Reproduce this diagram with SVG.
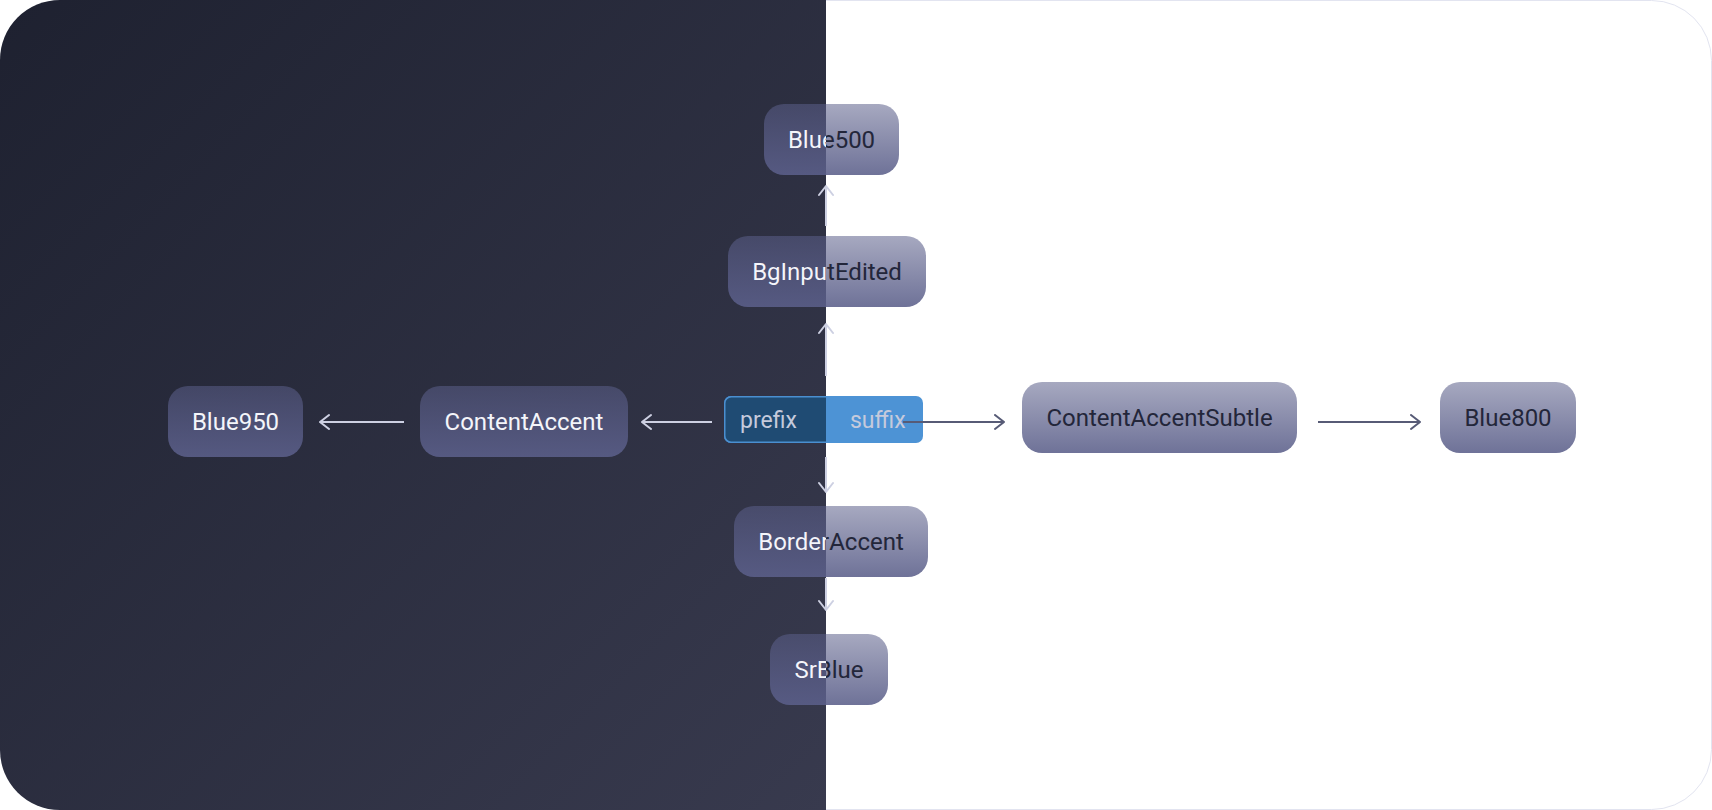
<svg xmlns="http://www.w3.org/2000/svg" width="1712" height="810" viewBox="0 0 1712 810">
  <defs>
    <clipPath id="cardClip">
      <rect x="0" y="0" width="1712" height="810" rx="60" ry="60"/>
    </clipPath>
    <clipPath id="leftClip">
      <rect x="0" y="0" width="826" height="810"/>
    </clipPath>
    <linearGradient id="darkBg" gradientUnits="userSpaceOnUse" x1="0" y1="0" x2="826" y2="810">
      <stop offset="0" stop-color="#1e2130"/>
      <stop offset="1" stop-color="#383a4e"/>
    </linearGradient>
    <linearGradient id="nodeFill" x1="0" y1="0" x2="0" y2="1">
      <stop offset="0" stop-color="#5b5f8a" stop-opacity="0.54"/>
      <stop offset="1" stop-color="#5b5f8a" stop-opacity="0.88"/>
    </linearGradient>
    <linearGradient id="splitText" gradientUnits="userSpaceOnUse" x1="0" y1="0" x2="1712" y2="0">
      <stop offset="0" stop-color="#f4f5fa"/>
      <stop offset="0.48248" stop-color="#f4f5fa"/>
      <stop offset="0.48248" stop-color="#23263a"/>
      <stop offset="1" stop-color="#23263a"/>
    </linearGradient>
    <marker id="arrowLight" markerUnits="userSpaceOnUse" markerWidth="14" markerHeight="18" refX="11" refY="8" orient="auto">
      <path d="M2,1 L11,8 L2,15" fill="none" stroke="#cdd0e2" stroke-width="2" stroke-linecap="round" stroke-linejoin="round"/>
    </marker>
    <marker id="arrowDark" markerUnits="userSpaceOnUse" markerWidth="14" markerHeight="18" refX="11" refY="8" orient="auto">
      <path d="M2,1 L11,8 L2,15" fill="none" stroke="#575b76" stroke-width="2" stroke-linecap="round" stroke-linejoin="round"/>
    </marker>
  </defs>
  <style>
    .node { fill: url(#nodeFill); }
    .label { font-family: Roboto, "Liberation Sans", sans-serif; font-size: 24px; text-anchor: middle; }
    .on-dark { fill: #f4f5fa; }
    .on-light { fill: #23263a; }
    .split { fill: url(#splitText); }
    .tag { font-family: Roboto, "Liberation Sans", sans-serif; font-size: 23px; fill: #c5cadc; }
    .conn-light { stroke: #cdd0e2; stroke-width: 2; fill: none; marker-end: url(#arrowLight); }
    .conn-dark { stroke: #575b76; stroke-width: 2; fill: none; marker-end: url(#arrowDark); }
  </style>

  <g id="background">
    <rect x="0" y="0" width="1712" height="810" fill="#ffffff"/>
    <rect x="0.5" y="0.5" width="1711" height="809" rx="60" ry="60" fill="#ffffff" stroke="#e2e4f0" stroke-width="1"/>
    <g clip-path="url(#cardClip)">
      <rect x="0" y="0" width="826" height="810" fill="url(#darkBg)"/>
    </g>
  </g>

  <g id="connectors">
    <line class="conn-light" x1="826" y1="376" x2="826" y2="324"/>
    <line class="conn-light" x1="826" y1="226" x2="826" y2="186"/>
    <line class="conn-light" x1="826" y1="457" x2="826" y2="492"/>
    <line class="conn-light" x1="826" y1="578" x2="826" y2="610"/>
    <line class="conn-light" x1="712" y1="422" x2="642" y2="422"/>
    <line class="conn-light" x1="404" y1="422" x2="320" y2="422"/>
    <line class="conn-dark" x1="1318" y1="422" x2="1420" y2="422"/>
  </g>

  <g id="node-blue500">
    <rect class="node" x="764" y="104" width="135" height="71" rx="20"/>
    <text class="label split" x="831.5" y="148">Blue500</text>
  </g>

  <g id="node-bginputedited">
    <rect class="node" x="728" y="236" width="198" height="71" rx="20"/>
    <text class="label split" x="827" y="280">BgInputEdited</text>
  </g>

  <g id="node-prefix-suffix">
    <rect x="724" y="396" width="199" height="47" rx="7" fill="#4d93d5"/>
    <g clip-path="url(#leftClip)">
      <rect x="724.75" y="396.75" width="197.5" height="45.5" rx="6.5" fill="#1f4b73" stroke="#4a8fd0" stroke-width="1.5"/>
    </g>
    <text class="tag" x="740" y="428">prefix</text>
    <text class="tag" x="850" y="428">suffix</text>
  </g>

  <g id="connector-suffix">
    <line class="conn-dark" x1="903" y1="422" x2="1004" y2="422"/>
  </g>

  <g id="node-borderaccent">
    <rect class="node" x="734" y="506" width="194" height="71" rx="20"/>
    <text class="label split" x="831" y="550">BorderAccent</text>
  </g>

  <g id="node-srblue">
    <rect class="node" x="770" y="634" width="118" height="71" rx="20"/>
    <text class="label split" x="829" y="678">SrBlue</text>
  </g>

  <g id="node-contentaccent">
    <rect class="node" x="420" y="386" width="208" height="71" rx="20"/>
    <text class="label on-dark" x="524" y="430">ContentAccent</text>
  </g>

  <g id="node-blue950">
    <rect class="node" x="168" y="386" width="135" height="71" rx="20"/>
    <text class="label on-dark" x="235.5" y="430">Blue950</text>
  </g>

  <g id="node-contentaccentsubtle">
    <rect class="node" x="1022" y="382" width="275" height="71" rx="20"/>
    <text class="label on-light" x="1159.5" y="426">ContentAccentSubtle</text>
  </g>

  <g id="node-blue800">
    <rect class="node" x="1440" y="382" width="136" height="71" rx="20"/>
    <text class="label on-light" x="1508" y="426">Blue800</text>
  </g>
</svg>
